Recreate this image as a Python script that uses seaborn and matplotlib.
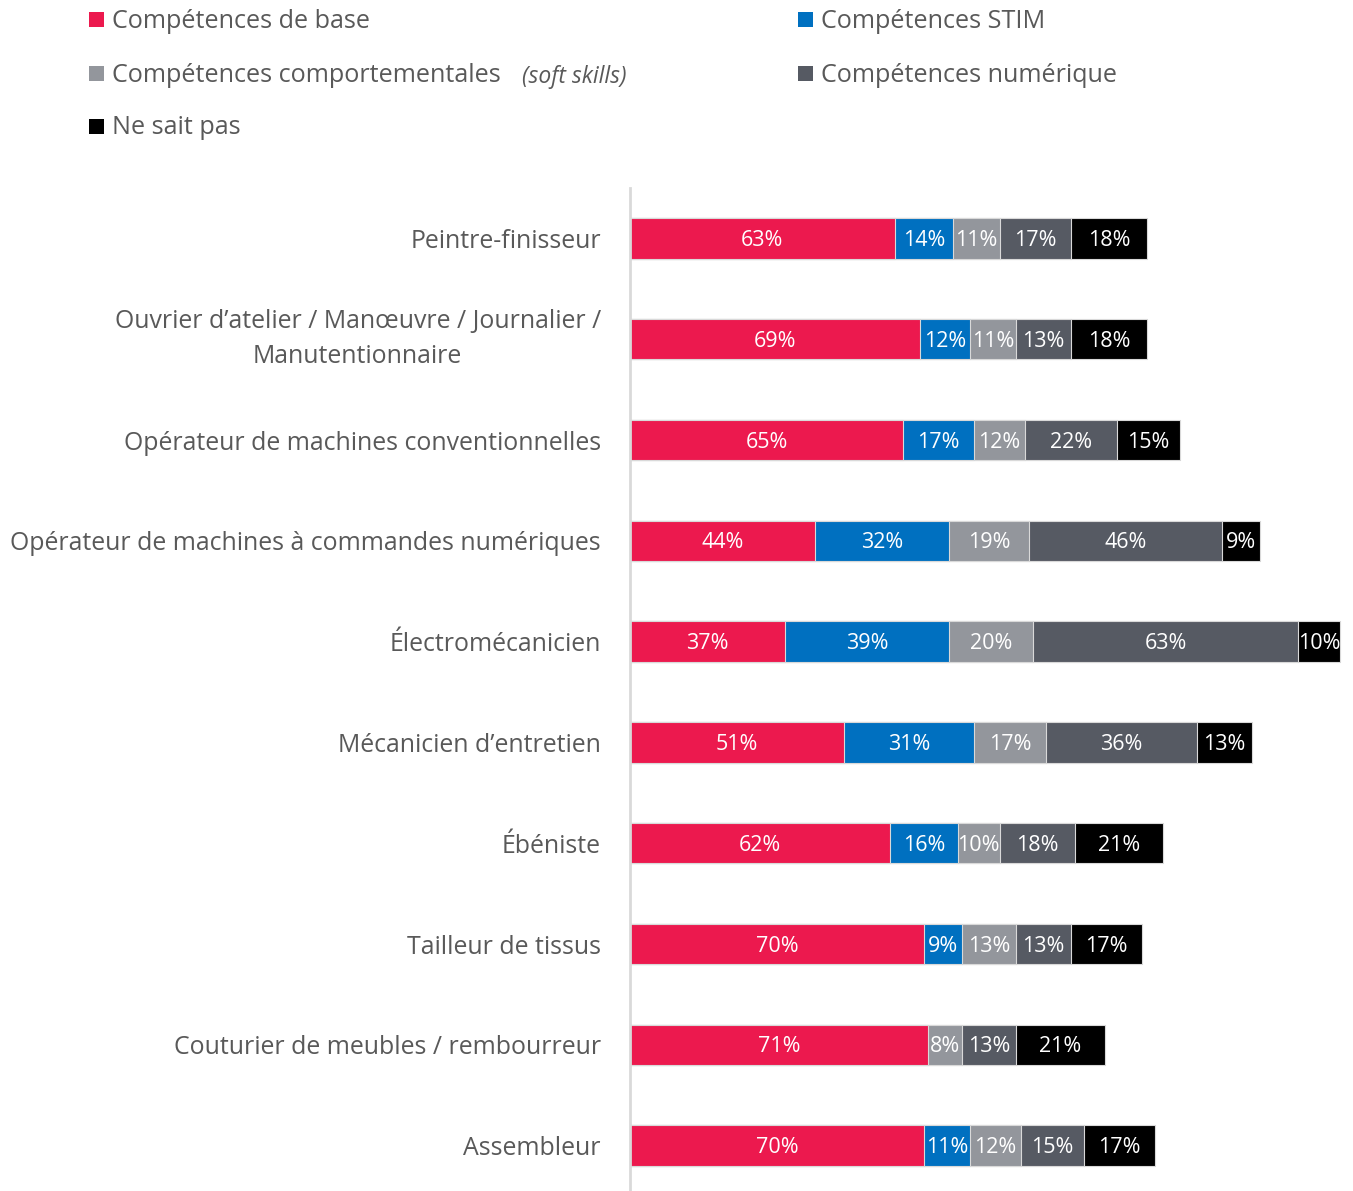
import matplotlib
matplotlib.use("Agg")
import matplotlib.pyplot as plt
from matplotlib.patches import Rectangle
import seaborn as sns
import pandas as pd
import numpy as np

# --- data -----------------------------------------------------------------
metiers = [
    "Peintre-finisseur",
    "Ouvrier d’atelier / Manœuvre / Journalier /\nManutentionnaire",
    "Opérateur de machines conventionnelles",
    "Opérateur de machines à commandes numériques",
    "Électromécanicien",
    "Mécanicien d’entretien",
    "Ébéniste",
    "Tailleur de tissus",
    "Couturier de meubles / rembourreur",
    "Assembleur",
]
base = [63, 69, 65, 44, 37, 51, 62, 70, 71, 70]
stim = [14, 12, 17, 32, 39, 31, 16, 9, 0, 11]
comportementales = [11, 11, 12, 19, 20, 17, 10, 13, 8, 12]
numerique = [17, 13, 22, 46, 63, 36, 18, 13, 13, 15]
ne_sait_pas = [18, 18, 15, 9, 10, 13, 21, 17, 21, 17]

series_names = [
    "Compétences de base",
    "Compétences STIM",
    "Compétences comportementales",
    "Compétences numérique",
    "Ne sait pas",
]
series_values = [base, stim, comportementales, numerique, ne_sait_pas]
colors = ["#EC194E", "#0070C0", "#93969C", "#565A63", "#000000"]

# --- figure ----------------------------------------------------------------
W, H = 1353, 1191
DPI = 100
sns.set_theme(style="white")
plt.rcParams["font.family"] = ["Open Sans", "DejaVu Sans"]

fig = plt.figure(figsize=(W / DPI, H / DPI), dpi=DPI)
ax_left, ax_right, ax_top, ax_bottom = 630, 1353, 188, 1191
ax = fig.add_axes([ax_left / W, 1 - ax_bottom / H,
                   (ax_right - ax_left) / W, (ax_bottom - ax_top) / H])

df = pd.DataFrame({"metier": metiers})
for name, vals in zip(series_names, series_values):
    df[name] = vals
cum = df[series_names].cumsum(axis=1)

# stacked bars: draw cumulative totals from the outermost layer inwards
for name, color in reversed(list(zip(series_names, colors))):
    sns.barplot(x=cum[name], y=df["metier"], orient="h", color=color,
                width=0.4, edgecolor="#D9D9D9", linewidth=0.8,
                saturation=1, ax=ax)

# segment labels
for i in range(len(metiers)):
    start = 0
    for name in series_names:
        v = df.loc[i, name]
        if v > 0:
            ax.text(start + v / 2, i + 0.02, f"{v}%", ha="center",
                    va="center", color="white", fontsize=15.5)
        start += v

scale = (ax_right - ax_left) / 4.2
ax.set_xlim(0, scale)
ax.set_ylim(len(metiers) - 0.55, -0.5)
ax.set_xlabel("")
ax.set_ylabel("")
ax.set_xticks([])
for s in ["top", "right", "bottom"]:
    ax.spines[s].set_visible(False)
ax.spines["left"].set_color("#D9D9D9")
ax.spines["left"].set_linewidth(2)
ax.tick_params(axis="y", length=0, pad=21, labelsize=17.9, labelcolor="#595959")
for lab in ax.get_yticklabels():
    lab.set_multialignment("center")
    lab.set_linespacing(1.55)
    if "\n" in lab.get_text():
        lab.set_verticalalignment("center")

# --- legend ----------------------------------------------------------------
legend_items = [
    (series_names[0], colors[0], 89, 19),
    (series_names[1], colors[1], 798, 19),
    (series_names[2], colors[2], 89, 73),
    (series_names[3], colors[3], 798, 73),
    (series_names[4], colors[4], 89, 126),
]
sq = 15
for label, color, x, y in legend_items:
    fig.patches.append(Rectangle((x / W, 1 - (y + sq / 2) / H), sq / W, sq / H,
                                 transform=fig.transFigure, facecolor=color,
                                 edgecolor="none"))
    fig.text((x + 23) / W, 1 - (y + 2) / H, label, ha="left", va="center",
             fontsize=18.1, color="#595959")
fig.text(522 / W, 1 - 77 / H, "(soft skills)", ha="left", va="center",
         fontsize=16.5, style="italic", color="#595959")

fig.savefig("out.png", dpi=DPI)
